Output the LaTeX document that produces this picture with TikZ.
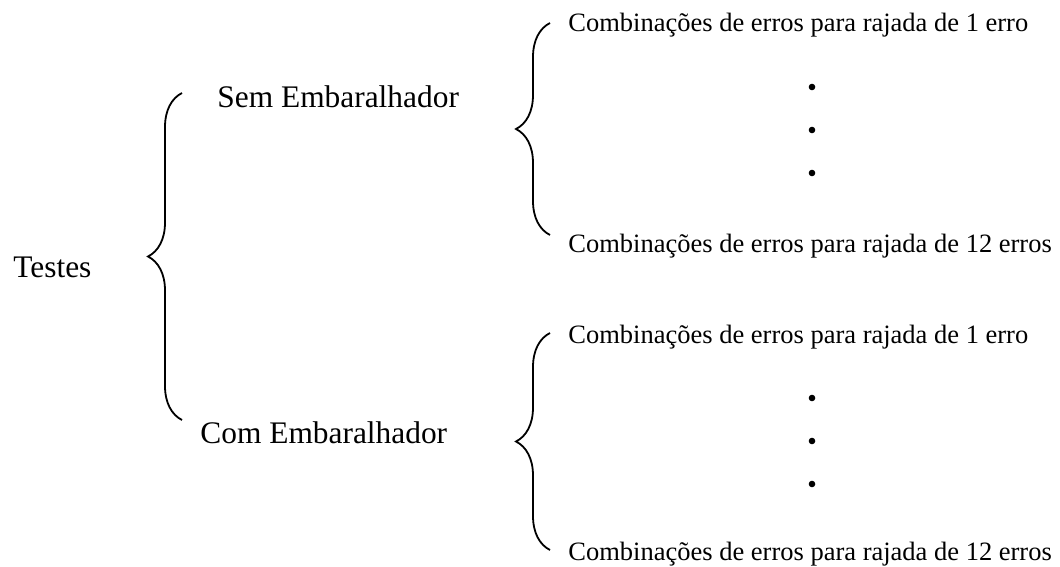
\documentclass[tikz,border=0pt]{standalone}
\usepackage{fontspec}
\setmainfont{Liberation Serif}
\usetikzlibrary{decorations.pathreplacing}
\tikzset{
  bigtext/.style={font=\fontsize{15.7}{18}\selectfont, inner sep=0pt, anchor=base west},
  smalltext/.style={font=\fontsize{13.25}{16}\selectfont, inner sep=0pt, anchor=base west},
  curly/.style={decorate, decoration={brace, amplitude=17pt}, line width=0.9pt},
  dot/.style={circle, fill=black, inner sep=0pt, minimum size=3.3pt},
}
\begin{document}
\begin{tikzpicture}[x=0.5pt, y=-0.5pt]
  \useasboundingbox (0,0) rectangle (1060,567);
  % left level
  \node[bigtext] (testes) at (13,277) {Testes};
  \node[bigtext] (sem) at (217,108) {Sem Embaralhador};
  \node[bigtext] (com) at (200,443) {Com Embaralhador};
  % right level
  \node[smalltext] (s1) at (568,32) {Combinações de erros para rajada de 1 erro};
  \node[smalltext] (s12) at (568,252) {Combinações de erros para rajada de 12 erros};
  \node[smalltext] (c1) at (568,343) {Combinações de erros para rajada de 1 erro};
  \node[smalltext] (c12) at (568,560) {Combinações de erros para rajada de 12 erros};
  \foreach \y [count=\i] in {87,130,173} \node[dot] (sd\i) at (812,\y) {};
  \foreach \y [count=\i] in {398,441,484} \node[dot] (cd\i) at (812,\y) {};
  % brace ends
  \coordinate (tb) at (182,420);
  \coordinate (tt) at (182,93);
  \coordinate (sb) at (550,235);
  \coordinate (st) at (550,23);
  \coordinate (cb) at (550,550);
  \coordinate (ct) at (550,333);
  \draw[curly] (tb) -- (tt);
  \draw[curly] (sb) -- (st);
  \draw[curly] (cb) -- (ct);
\end{tikzpicture}
\end{document}
